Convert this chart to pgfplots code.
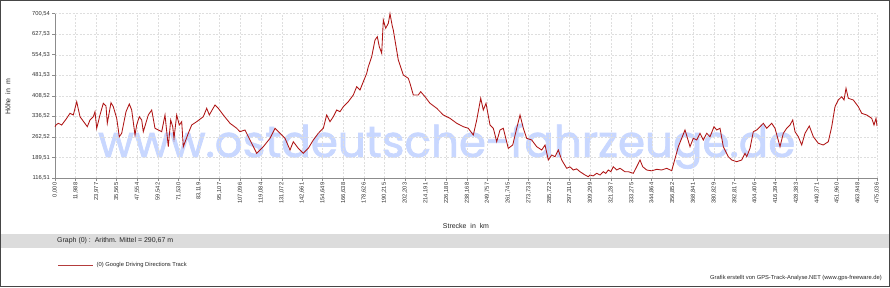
\documentclass[border=0pt]{standalone}
\usepackage{fontspec}
\setmainfont{Liberation Sans}
\usepackage{pgfplots}
\pgfplotsset{compat=1.18}
\usepackage{pgfplotstable}
\definecolor{trackred}{RGB}{175,20,20}
\definecolor{legred}{RGB}{180,60,60}
\definecolor{wmblue}{RGB}{200,215,255}
\definecolor{bandgray}{RGB}{220,220,220}
\definecolor{gridgray}{RGB}{222,222,222}
\definecolor{framegray}{RGB}{70,70,70}
\newfontfamily\wmfont[FakeBold=1.6]{Poppins}
\pgfplotstableread{
km h
0.00 298.9
0.58 304.9
1.91 311.0
3.87 304.9
6.76 328.7
8.67 346.5
10.58 340.5
12.54 387.7
14.45 334.4
18.67 298.9
20.23 322.7
22.13 334.4
23.11 352.2
24.10 293.2
26.00 340.5
27.91 382.1
29.47 372.5
30.22 311.0
32.36 384.2
33.69 370.0
35.66 328.7
37.16 263.3
38.55 275.4
41.03 352.2
42.94 379.6
44.32 358.2
46.23 269.4
47.21 304.9
48.72 334.4
50.10 322.7
51.03 281.1
53.92 340.5
55.88 358.2
57.79 293.2
59.70 287.2
61.66 281.1
63.57 340.5
65.48 227.8
66.86 322.7
68.02 298.9
68.77 257.6
70.33 340.5
71.83 304.9
73.22 316.7
74.14 227.8
77.03 275.4
79.00 304.9
81.89 316.7
85.70 334.4
87.67 364.3
89.17 340.5
92.46 376.0
94.37 364.3
97.26 340.5
101.13 311.0
105.00 293.2
106.91 281.1
109.80 287.2
112.69 251.6
116.56 204.3
120.38 227.8
124.25 257.6
127.14 293.2
130.03 275.4
132.92 257.6
135.81 216.0
137.71 245.5
140.60 222.1
143.49 204.3
146.38 222.1
149.27 251.6
152.16 275.4
155.05 293.2
157.01 340.5
158.92 316.7
160.83 334.4
162.79 358.2
164.70 352.2
166.61 370.0
169.50 387.7
172.39 411.6
174.35 441.1
175.30 435.0
176.26 429.3
178.17 458.8
180.10 488.0
181.06 512.2
183.02 547.7
184.93 607.1
186.26 618.8
187.41 583.3
188.80 559.8
189.73 678.2
191.11 648.7
192.62 666.5
193.60 700.5
194.80 660.0
195.50 642.6
198.39 536.0
201.28 482.7
204.17 470.9
205.20 452.0
207.06 411.6
209.95 411.6
211.33 423.3
213.82 405.5
216.71 382.1
220.58 364.3
224.40 340.5
228.27 328.7
232.14 311.0
235.96 298.9
238.85 293.2
241.74 269.4
243.71 322.7
246.02 399.8
247.52 358.2
249.08 382.1
251.39 304.9
253.30 293.2
255.26 245.5
257.17 287.2
259.08 293.2
261.97 222.1
264.51 233.8
266.82 293.2
268.73 340.5
270.64 293.2
272.60 257.6
275.49 251.6
278.38 227.8
281.27 216.0
283.18 233.8
285.08 180.5
287.05 198.3
288.95 192.2
290.86 216.0
292.83 180.5
295.72 151.0
297.60 156.0
299.53 144.9
301.40 149.0
303.40 138.9
306.29 127.2
308.20 121.1
309.17 127.2
311.00 124.0
313.05 133.2
315.00 127.0
316.86 138.9
318.30 133.0
319.75 144.9
321.20 139.0
322.64 156.7
324.61 144.9
326.51 151.0
329.40 138.9
331.31 138.9
334.20 133.2
336.16 156.7
338.07 180.5
339.63 156.7
341.94 144.9
344.80 142.0
347.72 147.4
350.60 145.0
353.50 151.0
356.39 142.5
360.21 227.8
364.08 287.2
366.97 227.8
368.87 257.6
370.84 251.6
372.75 275.4
374.65 251.6
376.62 275.4
378.53 263.3
380.84 298.9
382.40 287.2
384.31 293.2
386.21 227.8
389.10 192.2
391.07 180.5
393.96 174.4
396.85 180.5
398.75 204.3
399.74 192.2
401.64 222.1
403.55 281.1
405.51 287.2
407.42 298.9
409.33 311.0
411.29 293.2
414.18 311.0
416.09 293.2
418.98 227.8
420.89 275.4
422.85 293.2
424.76 304.9
426.32 322.7
427.65 281.1
429.56 263.3
431.52 233.8
433.43 275.4
435.91 301.4
438.22 263.3
441.11 239.9
444.00 233.8
446.89 245.5
448.86 298.9
450.76 370.0
452.67 393.8
454.64 405.5
455.97 393.8
457.12 435.4
458.45 399.8
461.34 393.8
464.23 370.0
466.19 346.5
469.08 340.5
471.97 328.7
473.30 304.9
474.46 328.7
475.03 301.4
}\track
\begin{document}
\begin{tikzpicture}[x=1bp,y=1bp]
% frame
\fill[white] (0,0) rectangle (890,287);
\draw[framegray,line width=1.5bp] (0.75,0.75) rectangle (889.25,286.25);
% watermark
\node[anchor=base west,inner sep=0pt,text=wmblue] at (98,130)
  {\resizebox{697bp}{!}{\wmfont www.ostdeutsche-fahrzeuge.de}};
\begin{axis}[
  at={(55bp,109bp)}, anchor=south west,
  scale only axis, width=822bp, height=164.3bp,
  xmin=0, xmax=475.036, ymin=116.51, ymax=700.54,
  axis x line*=bottom, axis y line*=left,
  axis line style={-, draw=gray!90, line width=0.8bp},
  tick align=outside, major tick length=3bp,
  tick style={gray!90, line width=0.6bp},
  grid=major,
  major grid style={gridgray, line width=0.5bp, dash pattern=on 2bp off 1.5bp},
  xtick={0,11.988,23.977,35.565,47.554,59.542,71.530,83.119,95.107,107.096,119.084,131.072,142.661,154.649,166.638,178.626,190.215,202.203,214.191,226.180,238.168,249.757,261.745,273.733,285.722,297.310,309.299,321.287,333.275,344.864,356.852,368.841,380.829,392.817,404.406,416.394,428.383,440.371,451.960,463.948,475.036},
  xticklabels={{0,000},{11,988},{23,977},{35,565},{47,554},{59,542},{71,530},{83,119},{95,107},{107,096},{119,084},{131,072},{142,661},{154,649},{166,638},{178,626},{190,215},{202,203},{214,191},{226,180},{238,168},{249,757},{261,745},{273,733},{285,722},{297,310},{309,299},{321,287},{333,275},{344,864},{356,852},{368,841},{380,829},{392,817},{404,406},{416,394},{428,383},{440,371},{451,960},{463,948},{475,036}},
  ytick={116.51,189.51,262.52,336.52,408.52,481.53,554.53,627.53,700.54},
  yticklabels={{116,51},{189,51},{262,52},{336,52},{408,52},{481,53},{554,53},{627,53},{700,54}},
  xticklabel style={rotate=90, anchor=east, font=\fontsize{5.8}{6}\selectfont, text=black!80, inner sep=1.5bp},
  yticklabel style={font=\fontsize{5.8}{6}\selectfont, text=black!80, inner sep=2bp},
  clip=false,
]
\addplot[trackred, line width=0.85bp] table[x=km,y=h] {\track};
\end{axis}
% labels
\node[rotate=90,font=\fontsize{7}{8}\selectfont,text=black!85] at (8,190) {Höhe\ \ in\ \ m};
\node[font=\fontsize{7}{8}\selectfont,text=black!85] at (466,61) {Strecke\ \ in\ \ km};
\fill[bandgray] (1.5,39.3) rectangle (888.5,52.7);
\node[anchor=west,font=\fontsize{7}{8}\selectfont,text=black!85,inner sep=0pt] at (57,46) {Graph (0) :\ \ Arithm. Mittel = 290,67 m};
\draw[legred, line width=0.8bp] (58.3,22) -- (92.7,22);
\node[anchor=west,font=\fontsize{5.8}{7}\selectfont,text=black!85,inner sep=0pt] at (96.5,22) {(0) Google Driving Directions Track};
\node[anchor=east,font=\fontsize{5.8}{7}\selectfont,text=black!85,inner sep=0pt] at (882,9) {Grafik erstellt von GPS-Track-Analyse.NET (www.gps-freeware.de)};
\end{tikzpicture}
\end{document}
